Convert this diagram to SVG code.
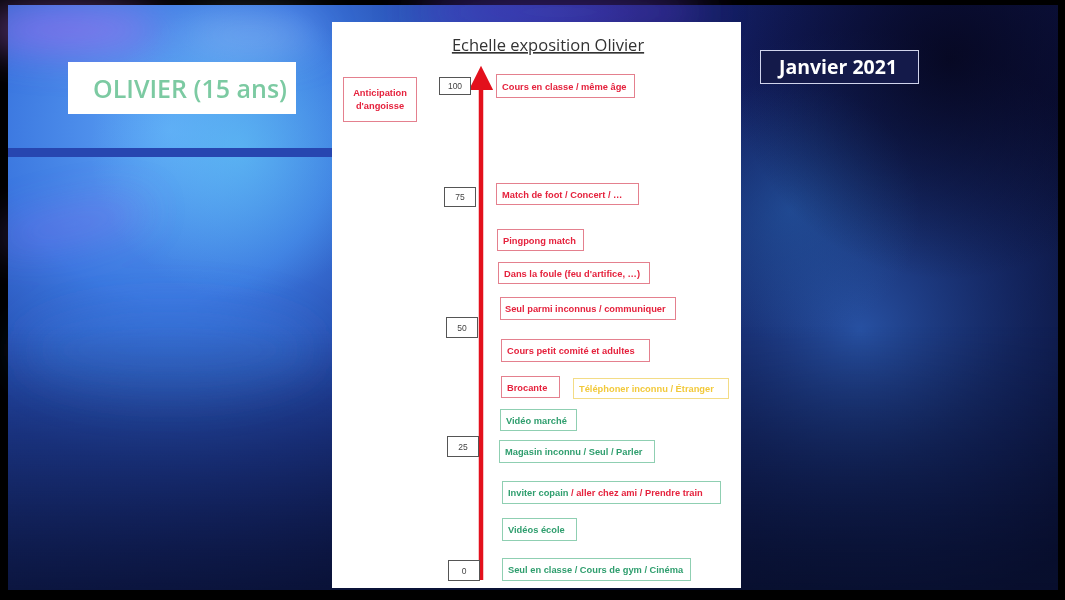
<svg xmlns="http://www.w3.org/2000/svg" width="1065" height="600" viewBox="0 0 1065 600">
  <defs>
    <radialGradient id="glowTL" cx="170" cy="130" r="480" gradientUnits="userSpaceOnUse">
      <stop offset="0" stop-color="#5ea4f6"/>
      <stop offset="0.35" stop-color="#3c78e0"/>
      <stop offset="0.7" stop-color="#2448ac" stop-opacity="0.7"/>
      <stop offset="1" stop-color="#2448ac" stop-opacity="0"/>
    </radialGradient>
    <radialGradient id="glowCyan" cx="240" cy="150" r="150" gradientUnits="userSpaceOnUse">
      <stop offset="0" stop-color="#62ccf6" stop-opacity="0.55"/>
      <stop offset="1" stop-color="#62ccf6" stop-opacity="0"/>
    </radialGradient>
    <radialGradient id="glowR" cx="860" cy="330" r="300" gradientUnits="userSpaceOnUse">
      <stop offset="0" stop-color="#2c5cb4" stop-opacity="0.85"/>
      <stop offset="0.6" stop-color="#1c3a88" stop-opacity="0.45"/>
      <stop offset="1" stop-color="#1c3a88" stop-opacity="0"/>
    </radialGradient>
    <radialGradient id="glowTeal" cx="790" cy="210" r="130" gradientUnits="userSpaceOnUse">
      <stop offset="0" stop-color="#2a6ab8" stop-opacity="0.45"/>
      <stop offset="1" stop-color="#2a6ab8" stop-opacity="0"/>
    </radialGradient>
    <radialGradient id="darkTR" cx="950" cy="60" r="220" gradientUnits="userSpaceOnUse">
      <stop offset="0" stop-color="#05051a" stop-opacity="0.8"/>
      <stop offset="1" stop-color="#05051a" stop-opacity="0"/>
    </radialGradient>
    <linearGradient id="base" x1="0" y1="0" x2="1" y2="0.5">
      <stop offset="0" stop-color="#2650b8"/>
      <stop offset="0.5" stop-color="#142068"/>
      <stop offset="1" stop-color="#080b2c"/>
    </linearGradient>
    <linearGradient id="shadeBottom" x1="0" y1="0" x2="0" y2="1">
      <stop offset="0.55" stop-color="#08102e" stop-opacity="0"/>
      <stop offset="1" stop-color="#08102e" stop-opacity="0.75"/>
    </linearGradient>
    <filter id="soft" x="-50%" y="-50%" width="200%" height="200%">
      <feGaussianBlur stdDeviation="20"/>
    </filter>
    <marker id="arrowHead" viewBox="0 0 10 10" refX="0" refY="5" markerWidth="5.6" markerHeight="5.4" orient="auto" markerUnits="strokeWidth">
      <path d="M0,0 L10,5 L0,10 Z" fill="#e3101c"/>
    </marker>
    <style>
      .lbl { font-family: "Liberation Sans", Arial, sans-serif; font-size: 9.3px; font-weight: bold; }
      .red { fill: #e5223d; }
      .grn { fill: #2f9e6e; }
      .ylw { fill: #f2c93a; }
      .bRed { fill: #ffffff; stroke: #e4808e; stroke-width: 1; }
      .bGrn { fill: #ffffff; stroke: #8fcfb2; stroke-width: 1; }
      .bYlw { fill: #ffffff; stroke: #f3dc86; stroke-width: 1; }
      .bNum { fill: #ffffff; stroke: #555555; stroke-width: 1; }
      .num { font-family: "Liberation Sans", Arial, sans-serif; font-size: 8.5px; fill: #444444; }
    </style>
  </defs>

  <!-- frame and backdrop -->
  <rect x="0" y="0" width="1065" height="600" fill="#000000"/>
  <g id="backdrop">
    <rect x="8" y="5" width="1050" height="585" fill="url(#base)"/>
    <rect x="8" y="5" width="1050" height="585" fill="url(#glowTL)"/>
    <rect x="8" y="5" width="1050" height="585" fill="url(#glowR)"/>
    <rect x="8" y="5" width="1050" height="585" fill="url(#glowTeal)"/>
    <rect x="8" y="5" width="1050" height="585" fill="url(#darkTR)"/>
    <rect x="8" y="5" width="1050" height="585" fill="url(#glowCyan)"/>
    <g filter="url(#soft)">
      <ellipse cx="70" cy="30" rx="90" ry="20" fill="#b46cf0" opacity="0.6"/>
      <ellipse cx="70" cy="225" rx="80" ry="14" fill="#9c6cf0" opacity="0.4" transform="rotate(-12 70 225)"/>
      <ellipse cx="250" cy="35" rx="70" ry="14" fill="#c0d8ff" opacity="0.45"/>
      <ellipse cx="560" cy="12" rx="150" ry="14" fill="#6a40e0" opacity="0.7"/>
      <ellipse cx="170" cy="350" rx="150" ry="45" fill="#3a78dc" opacity="0.4"/>
    </g>
    <rect x="8" y="5" width="1050" height="585" fill="url(#shadeBottom)"/>
    <!-- horizontal band on the left -->
    <rect x="8" y="148" width="324" height="9" fill="#2746b0"/>
  </g>

  <!-- name tag -->
  <g id="name-tag">
    <rect x="68" y="62" width="228" height="52" fill="#ffffff"/>
    <text x="190" y="98" text-anchor="middle" font-family="'Open Sans', 'Liberation Sans', sans-serif" font-size="25" font-weight="600" fill="#7ccaa2">OLIVIER (15 ans)</text>
  </g>

  <!-- date tag -->
  <g id="date-tag">
    <rect x="760.5" y="50.5" width="158" height="33" fill="#141a4a" stroke="#d0d4ec" stroke-width="1"/>
    <text x="838" y="74" text-anchor="middle" font-family="'Open Sans', 'Liberation Sans', sans-serif" font-size="19.5" font-weight="bold" fill="#ffffff">Janvier 2021</text>
  </g>

  <!-- scale sheet -->
  <g id="sheet">
    <rect x="332" y="22" width="409" height="566" fill="#ffffff"/>
    <text x="548" y="51" text-anchor="middle" font-family="'Open Sans', 'Liberation Sans', sans-serif" font-size="16.5" fill="#333333" text-decoration="underline">Echelle exposition Olivier</text>
  </g>

  <!-- axis -->
  <g id="connectors">
    <line x1="481" y1="580" x2="481" y2="90" stroke="#e3101c" stroke-width="4.5" marker-end="url(#arrowHead)"/>
  </g>

  <!-- anticipation box -->
  <g id="anticipation">
    <rect class="bRed" x="343.5" y="77.5" width="73" height="44"/>
    <text class="lbl red" x="380" y="96" text-anchor="middle" font-size="8.6">Anticipation</text>
    <text class="lbl red" x="380" y="109" text-anchor="middle" font-size="8.6">d'angoisse</text>
  </g>

  <!-- scale values -->
  <g id="tick-100"><rect class="bNum" x="439.5" y="77.5" width="31" height="17"/><text class="num" x="455" y="89" text-anchor="middle">100</text></g>
  <g id="tick-75"><rect class="bNum" x="444.5" y="187.5" width="31" height="19"/><text class="num" x="460" y="200" text-anchor="middle">75</text></g>
  <g id="tick-50"><rect class="bNum" x="446.5" y="317.5" width="31" height="20"/><text class="num" x="462" y="331" text-anchor="middle">50</text></g>
  <g id="tick-25"><rect class="bNum" x="447.5" y="436.5" width="31" height="20"/><text class="num" x="463" y="450" text-anchor="middle">25</text></g>
  <g id="tick-0"><rect class="bNum" x="448.5" y="560.5" width="31" height="20"/><text class="num" x="464" y="574" text-anchor="middle">0</text></g>

  <!-- situations -->
  <g id="s-cours-classe"><rect class="bRed" x="496.5" y="74.5" width="138" height="23"/><text class="lbl red" x="502" y="89.5">Cours en classe / même âge</text></g>
  <g id="s-match-foot"><rect class="bRed" x="496.5" y="183.5" width="142" height="21"/><text class="lbl red" x="502" y="197.5">Match de foot / Concert / …</text></g>
  <g id="s-pingpong"><rect class="bRed" x="497.5" y="229.5" width="86" height="21"/><text class="lbl red" x="503" y="243.5">Pingpong match</text></g>
  <g id="s-foule"><rect class="bRed" x="498.5" y="262.5" width="151" height="21"/><text class="lbl red" x="504" y="276.5">Dans la foule (feu d'artifice, …)</text></g>
  <g id="s-inconnus"><rect class="bRed" x="500.5" y="297.5" width="175" height="22"/><text class="lbl red" x="505" y="312">Seul parmi inconnus / communiquer</text></g>
  <g id="s-petit-comite"><rect class="bRed" x="501.5" y="339.5" width="148" height="22"/><text class="lbl red" x="507" y="354">Cours petit comité et adultes</text></g>
  <g id="s-brocante"><rect class="bRed" x="501.5" y="376.5" width="58" height="21"/><text class="lbl red" x="507" y="390.5">Brocante</text></g>
  <g id="s-telephoner"><rect class="bYlw" x="573.5" y="378.5" width="155" height="20"/><text class="lbl ylw" x="579" y="392">Téléphoner inconnu / Étranger</text></g>
  <g id="s-video-marche"><rect class="bGrn" x="500.5" y="409.5" width="76" height="21"/><text class="lbl grn" x="506" y="423.5">Vidéo marché</text></g>
  <g id="s-magasin"><rect class="bGrn" x="499.5" y="440.5" width="155" height="22"/><text class="lbl grn" x="505" y="455">Magasin inconnu / Seul / Parler</text></g>
  <g id="s-inviter"><rect class="bGrn" x="502.5" y="481.5" width="218" height="22"/><text class="lbl" x="508" y="496"><tspan class="grn">Inviter copain</tspan><tspan class="red"> / aller chez ami / Prendre train</tspan></text></g>
  <g id="s-videos-ecole"><rect class="bGrn" x="502.5" y="518.5" width="74" height="22"/><text class="lbl grn" x="508" y="533">Vidéos école</text></g>
  <g id="s-seul-classe"><rect class="bGrn" x="502.5" y="558.5" width="188" height="22"/><text class="lbl grn" x="508" y="573">Seul en classe / Cours de gym  / Cinéma</text></g>
</svg>
